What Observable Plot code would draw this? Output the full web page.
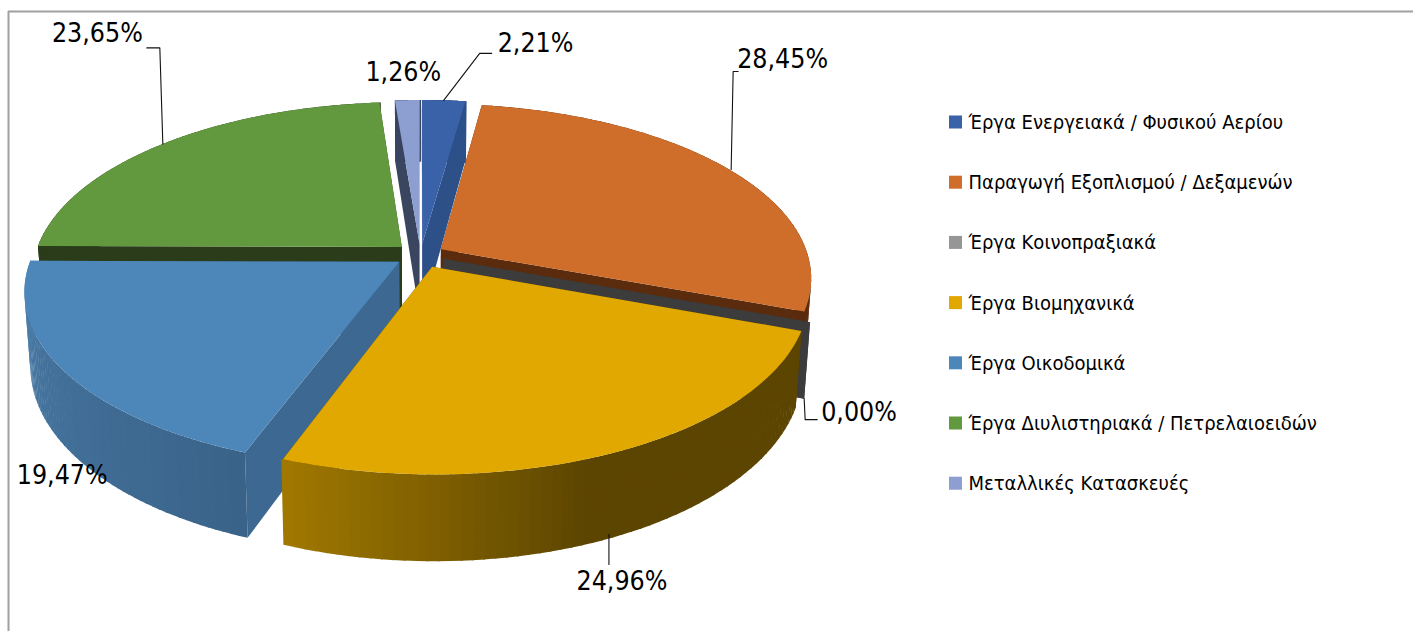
<!DOCTYPE html>
<html>
<head>
<meta charset="utf-8">
<script src="https://cdn.jsdelivr.net/npm/d3@7"></script>
<script src="https://cdn.jsdelivr.net/npm/@observablehq/plot@0.6"></script>
<style>
html,body{margin:0;padding:0;background:#fff;overflow:hidden}
svg{display:block}
</style>
</head>
<body>
<div id="chart"></div>
<script>
// Data, clockwise from 12 o'clock
const categories = ["Έργα Ενεργειακά / Φυσικού Αερίου","Παραγωγή Εξοπλισμού / Δεξαμενών","Έργα Κοινοπραξιακά","Έργα Βιομηχανικά","Έργα Οικοδομικά","Έργα Διυλιστηριακά / Πετρελαιοειδών","Μεταλλικές Κατασκευές"];
const shares = [2.21,28.45,0,24.96,19.47,23.65,1.26];
const shareLabels = ["2,21%","28,45%","0,00%","24,96%","19,47%","23,65%","1,26%"];

// Styles
const topColors  = ["#3a62a8","#cf6d2a","#969696","#e0a800","#4d87ba","#62993e","#8c9fd0"];
const cutColors  = ["#2d5089","#5a2b0d","#3c3c3c","#5c4500","#3d6891","#2a3c1a","#3a4560"];
const wallLight  = ["#2d5089","#5a2b0d","#3c3c3c","#a07800","#4a7ca8","#2a3c1a","#3a4560"];
const wallDark   = ["#2d5089","#5a2b0d","#3c3c3c","#5c4500","#3a6389","#2a3c1a","#3a4560"];
const paintOrder = [6,0,5,1,2,4,3];

// 3D view of the pie
const W = 1413, H = 631;
const cx = 420, cy = 254.5, R = 367, B = 170.3, k = 0.16, depth = 72, baseShrink = 0.985;
const explodeBy = [0.065,0.065,0.065,0.075,0.07,0.07,0.065];

// Leader layout: offsets of start, elbow, end and text from the slice's anchor
const labelLayout = [
  {base:false, start:[0,0],  elbow:[36,-47], end:[48,-47], text:[54,-57], anchor:"start"},
  {base:false, start:[2,0],  elbow:[4,-98],  end:[9,-98],  text:[8,-110], anchor:"start"},
  {base:true,  start:[0,0],  elbow:[1,21],   end:[13,21],  text:[17,14],  anchor:"start"},
  {base:true,  start:[-4,-3],elbow:[-4,27],  end:[-4,27],  text:[9,44],   anchor:"middle"},
  {base:true,  start:null,   elbow:null,     end:null,     text:[-6,26],  anchor:"middle"},
  {base:false, start:[0,0],  elbow:[-3,-96], end:[-16,-96],text:[-20,-110],anchor:"end"},
  {base:false, start:null,   elbow:null,     end:null,     text:[-4,-28], anchor:"middle"}
];

const arcs = d3.pie().sort(null).value(d => d).startAngle(0).endAngle(2 * Math.PI)(shares);

function project(X, Y, lower) {
  const d = 1 + k * Y;
  const sx = R * X / d, sy = -B * Y / d;
  return lower ? [cx + sx * baseShrink, cy + sy + depth / d] : [cx + sx, cy + sy];
}
const mid = a => (a.startAngle + a.endAngle) / 2;
function rim(a, t, r, lower) {
  const m = mid(a), e = explodeBy[a.index];
  return project(r * Math.sin(t) + e * Math.sin(m), r * Math.cos(t) + e * Math.cos(m), lower);
}

const faces = [];
let faceId = 0;
function addFace(points, fill) {
  const face = faceId++;
  points.forEach(([x, y]) => faces.push({face, x, y, fill}));
}
for (const i of paintOrder) {
  const a = arcs[i];
  const steps = d3.range(0, 1.0001, 1 / 60).map(u => a.startAngle + u * (a.endAngle - a.startAngle));
  for (const t of [a.startAngle, a.endAngle]) {
    addFace([rim(a,t,0,false), rim(a,t,1,false), rim(a,t,1,true), rim(a,t,0,true)], cutColors[i]);
  }
  if (shares[i] > 0) {
    const shade = d3.interpolateRgb(wallDark[i], wallLight[i]);
    for (let j = 0; j < steps.length - 1; j++) {
      const u = i === 3 ? Math.min(1, Math.max(0, (j / 59 - 0.55) / 0.45)) : j / 59;
      const t0 = steps[j], t1 = steps[j + 1] + 0.004;
      addFace([rim(a,t0,1,false), rim(a,t1,1,false), rim(a,t1,1,true), rim(a,t0,1,true)], shade(u));
    }
    addFace([rim(a,0,0,false), ...steps.map(t => rim(a,t,1,false))], topColors[i]);
  }
}

const leaders = [], labels = [];
arcs.forEach((a, i) => {
  const L = labelLayout[i];
  const p = rim(a, mid(a), 1, L.base);
  if (L.elbow) {
    [L.start, L.elbow, L.end].forEach(o => leaders.push({i, x: p[0]+o[0], y: p[1]+o[1]}));
  }
  labels.push({x: p[0]+L.text[0], y: p[1]+L.text[1], text: shareLabels[i], anchor: L.anchor});
});

const legendX = 949, legendY0 = 122, legendStep = 60.2;
const legend = categories.map((name, i) => ({name, fill: topColors[i], y: legendY0 + i * legendStep}));
const labelFont = "'DejaVu Sans Condensed','DejaVu Sans',sans-serif";

const plot = Plot.plot({
  width: W, height: H, margin: 0,
  style: {background: "#fff"},
  x: {domain: [0, W], range: [0, W], axis: null},
  y: {domain: [0, H], range: [0, H], axis: null},
  marks: [
    Plot.ruleY([11], {x1: 8, x2: W, stroke: "#a0a0a0", strokeWidth: 2}),
    Plot.ruleX([8], {y1: 11, y2: H, stroke: "#a0a0a0", strokeWidth: 2}),
    Plot.line(faces, {x: "x", y: "y", z: "face", fill: "fill", stroke: "none", curve: "linear-closed"}),
    Plot.line(leaders, {x: "x", y: "y", z: "i", stroke: "#111", strokeWidth: 1.1}),
    ...["start","middle","end"].map(anchor => Plot.text(labels.filter(d => d.anchor === anchor), {
      x: "x", y: "y", text: "text", textAnchor: anchor, fontSize: 26.5, fontFamily: labelFont, fill: "#000"
    })),
    Plot.rect(legend, {x1: legendX, x2: legendX + 13, y1: d => d.y - 6.5, y2: d => d.y + 6.5, fill: "fill"}),
    Plot.text(legend, {x: 968, y: "y", text: "name", textAnchor: "start", fontSize: 20, fontFamily: labelFont, fill: "#000"})
  ]
});
document.getElementById("chart").append(plot);
</script>
</body>
</html>
